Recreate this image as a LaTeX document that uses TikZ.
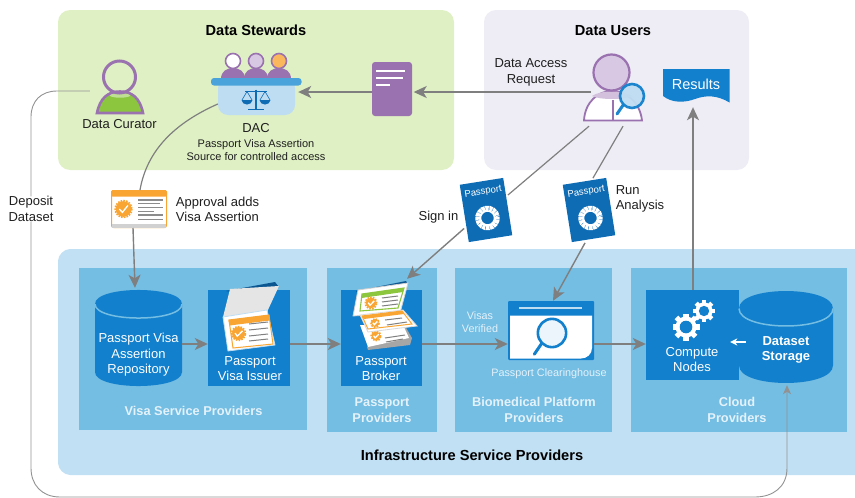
\documentclass[tikz,border=0pt]{standalone}
\usepackage{fontspec}
\setmainfont{Liberation Sans}
\usetikzlibrary{arrows.meta}
\definecolor{stewardsgreen}{HTML}{DFF0C4}
\definecolor{usersgray}{HTML}{EEECF5}
\definecolor{infrablue}{HTML}{C2E0F3}
\definecolor{groupblue}{HTML}{74BDE3}
\definecolor{boxblue}{HTML}{1280CC}
\definecolor{coverblue}{HTML}{0E6CB5}
\definecolor{lightblue}{HTML}{BEDDF2}
\definecolor{barblue}{HTML}{4BA3DC}
\definecolor{iconpurple}{HTML}{9B72B0}
\definecolor{palepurple}{HTML}{D8C8E3}
\definecolor{curatorgreen}{HTML}{8CC63F}
\definecolor{cardorange}{HTML}{F9A533}
\definecolor{flowgray}{HTML}{7F7F7F}
\definecolor{softwhite}{HTML}{E4F2FA}
\tikzset{
  panelbox/.style={rectangle, rounded corners=12pt, inner sep=0pt},
  groupbox/.style={rectangle, fill=groupblue, inner sep=0pt},
  servicebox/.style={rectangle, fill=boxblue, inner sep=0pt},
  hull/.style={rectangle, inner sep=0pt},
  passportbox/.style={rectangle, fill=coverblue, rotate=9, minimum width=44pt, minimum height=58pt, inner sep=0pt, text=white, align=center, font=\fontsize{9.5}{11}\selectfont},
  labeltext/.style={align=center, inner sep=0pt, text=black!88, font=\fontsize{13}{15.5}\selectfont},
  smalltext/.style={align=center, inner sep=0pt, text=black!88, font=\fontsize{11}{13.5}\selectfont},
  whitetext/.style={align=center, inner sep=0pt, text=white, font=\fontsize{13}{15.5}\selectfont},
  palelabel/.style={align=center, inner sep=0pt, text=softwhite, font=\fontsize{10.8}{13}\selectfont},
  titletext/.style={align=center, inner sep=0pt, text=black, font=\fontsize{14.6}{17}\selectfont\bfseries},
  grouptext/.style={align=center, inner sep=0pt, text=softwhite, font=\fontsize{12.8}{15.5}\selectfont\bfseries},
  flow/.style={draw=flowgray, line width=1.4pt, -{Stealth[length=13pt,width=12pt,inset=3.5pt]}},
  plainflow/.style={draw=flowgray, line width=1.2pt},
  thinflow/.style={draw=flowgray!85, line width=0.9pt},
  pics/gear/.style={code={
    \fill[white] (0,0) circle (10.5);
    \foreach \a in {0,45,...,315}
      \fill[white, rotate=\a] (-2.6,-13.5) rectangle (2.6,0);
    \fill[boxblue] (0,0) circle (6.3);
  }},
  pics/seal/.style={code={
    \draw[white, line width=6pt, dash pattern=on 3pt off 0.6pt] (0,0) circle (9.3);
  }},
  pics/badge/.style={code={
    \fill[cardorange] (0,0) circle (5.6);
    \draw[cardorange, line width=1.6pt, dash pattern=on 1.6pt off 1.2pt] (0,0) circle (6);
    \draw[white, line width=1.3pt] (-3,0) -- (-0.8,2.4) -- (3.2,-2.6);
  }},
  pics/lens/.style={code={
    \draw[boxblue, line width=3pt, line cap=round] (-8.5,8.5) -- (-15,18);
    \draw[boxblue, line width=2.6pt, fill=#1] (0,0) circle (12);
  }},
  pics/lens/.default=lightblue
}
\newcommand{\dbshape}[5]{% left, right, top-centre y, bottom-centre y, depth of the end
  \fill[boxblue] (#1,#3) .. controls (#1,#3-#5) and (#2,#3-#5) .. (#2,#3) -- (#2,#4) .. controls (#2,#4+#5) and (#1,#4+#5) .. (#1,#4) -- cycle;
  \draw[groupblue, line width=1.5pt] (#1,#3) .. controls (#1,#3+#5) and (#2,#3+#5) .. (#2,#3);
}
\begin{document}
\begin{tikzpicture}[x=1pt,y=-1pt]
  \useasboundingbox (0,0) rectangle (855,498);
  \node[panelbox, fill=stewardsgreen, minimum width=396pt, minimum height=160pt] (stewards) at (256,90) {};
  \node[panelbox, fill=usersgray, minimum width=265pt, minimum height=160pt] (users) at (616.5,90) {};
  \fill[infrablue] (855,249) -- (855,475) -- (70,475) .. controls (64,475) and (58,469) .. (58,463) -- (58,261) .. controls (58,255) and (64,249) .. (70,249) -- cycle;
  \node[groupbox, minimum width=228pt, minimum height=162pt] (visagroup) at (193,349) {};
  \node[groupbox, minimum width=110pt, minimum height=164pt] (passportgroup) at (382,350) {};
  \node[groupbox, minimum width=157pt, minimum height=164pt] (biomedgroup) at (533.5,350) {};
  \node[groupbox, minimum width=216pt, minimum height=164pt] (cloudgroup) at (739,350) {};

  \node[titletext] (stewardstitle) at (256,30.5) {Data Stewards};
  \node[titletext] (userstitle) at (613,30.5) {Data Users};
  \node[titletext] (infratitle) at (472,455) {Infrastructure Service Providers};
  \node[grouptext] (visatitle) at (193.5,410.5) {Visa Service Providers};
  \node[grouptext] (passporttitle) at (382,410) {Passport\\Providers};
  \node[grouptext] (biomedtitle) at (534,410) {Biomedical Platform\\Providers};
  \node[grouptext] (cloudtitle) at (737,410) {Cloud\\Providers};

  % data curator
  \node[hull, minimum width=46pt, minimum height=54pt] (curator) at (120,86) {};
  \draw[iconpurple, line width=2.6pt, fill=curatorgreen] (97,113) .. controls (100,98) and (108,91.5) .. (120,91.5) .. controls (132,91.5) and (140,98) .. (143,113) -- cycle;
  \fill[white, opacity=.45] (120,95.5) ellipse [x radius=10, y radius=2.2];
  \draw[iconpurple, line width=3pt] (119.5,77) circle (16);
  \node[labeltext] (curatorlabel) at (119.5,124.5) {Data Curator};

  % committee
  \foreach \px/\pcol in {233/white, 256/palepurple, 279/cardorange!80} {
    \fill[iconpurple] (\px-12,79) .. controls (\px-12,71) and (\px-6,68) .. (\px,68) .. controls (\px+6,68) and (\px+12,71) .. (\px+12,79) -- cycle;
    \draw[iconpurple, line width=1.6pt, fill=\pcol] (\px,61) circle (7.5);
  }
  \node[hull, fill=lightblue, rounded corners=10pt, minimum width=77pt, minimum height=37pt] (dac) at (256.5,96.5) {};
  \fill[barblue, rounded corners=3pt] (211,78) rectangle (301.5,85.5);
  \begin{scope}[coverblue]
    \draw[line width=1.2pt] (256,89.5) -- (256,108.5) (248,109.5) -- (264,109.5);
    \draw[line width=1.2pt] (245,91.5) -- (267,91.5);
    \draw[line width=0.6pt] (242,100) -- (247,91.5) -- (252,100) (260,100) -- (265,91.5) -- (270,100);
    \fill (241.5,100) .. controls (242,106) and (252,106) .. (252.5,100) -- cycle;
    \fill (259.5,100) .. controls (260,106) and (270,106) .. (270.5,100) -- cycle;
  \end{scope}
  \node[labeltext] (daclabel) at (256,128) {DAC};
  \node[smalltext] (dacnote) at (256,150) {Passport Visa Assertion\\Source for controlled access};

  % request form
  \node[hull, fill=iconpurple, rounded corners=3pt, minimum width=40pt, minimum height=54pt] (docform) at (392,89) {};
  \foreach \ly/\lx in {71/405, 78/403, 85/390}
    \draw[white, line width=1.8pt] (376,\ly) -- (\lx,\ly);

  % data user
  \node[hull, minimum width=58pt, minimum height=66pt] (user) at (613,87) {};
  \draw[iconpurple, line width=1.8pt, fill=white] (584,120.5) .. controls (585,102) and (598,91) .. (612,91) .. controls (626,91) and (640,102) .. (642,120.5) -- cycle;
  \draw[iconpurple, line width=1.2pt] (613,100) -- (613,120);
  \fill[iconpurple!45] (592,96) .. controls (600,90) and (624,90) .. (632,96) .. controls (624,100) and (600,100) .. (592,96) -- cycle;
  \draw[iconpurple, line width=2.2pt, fill=palepurple] (611.5,72.5) circle (18);
  \pic[opacity=.95] at (632,96) {lens};
  \node[labeltext] (requestlabel) at (531,72.5) {Data Access\\Request};

  % results
  \fill[boxblue] (663,69) -- (729.5,69) -- (729.5,102.5) .. controls (717,95) and (706,95) .. (695,99) .. controls (684,103) and (672,103) .. (663,96) -- cycle;
  \node[hull, text=white, font=\fontsize{14.5}{16}\selectfont, minimum width=66pt, minimum height=33pt] (results) at (696,85.5) {\raisebox{2.5pt}{Results}};

  % approval card
  \node[hull, fill=white, draw=cardorange, line width=1pt, rounded corners=2pt, minimum width=55pt, minimum height=37pt] (approval) at (139,209) {};
  \fill[cardorange, rounded corners=1.5pt] (111,190) rectangle (167,196.5);
  \fill[black!18] (112,223.5) rectangle (166,227.5);
  \pic[scale=1.4] at (123.5,209) {badge};
  \foreach \ly/\lx/\lw in {200/163/1.4, 203.5/160/0.7, 207.5/163/1.4, 211/154/0.7, 215/163/1.4, 219.5/163/1.4}
    \draw[black!45, line width=\lw pt] (138,\ly) -- (\lx,\ly);
  \node[labeltext, align=left] (approvallabel) at (217.5,209.5) {Approval adds\\Visa Assertion};

  % passports
  \node[passportbox] (passportA) at (486,210) {Passport\\[24pt]\strut};
  \pic[rotate=9] at (487.5,218) {seal};
  \node[passportbox] (passportB) at (589,210) {Passport\\[24pt]\strut};
  \pic[rotate=9] at (590.5,218) {seal};
  \node[labeltext] (signinlabel) at (438.5,217) {Sign in};
  \node[labeltext, align=left] (runlabel) at (640,199) {Run\\Analysis};

  % visa service providers
  \node[hull, minimum width=87pt, minimum height=96pt] (repo) at (138.5,338) {};
  \dbshape{95}{182}{304}{372}{18.7}
  \node[whitetext] (repolabel) at (138.5,355) {Passport Visa\\Assertion\\Repository};
  \node[servicebox, minimum width=82pt, minimum height=96pt] (issuer) at (249,338) {};
  \fill[coverblue!80!black] (226,291) -- (275,282) -- (279,287) -- (232,292) -- cycle;
  \fill[black!10] (230,289) -- (279,286) -- (267,312) -- (223,317) -- cycle;
  \draw[lightblue, line width=.8pt, fill=white] (223,317) -- (267,310) -- (275,345) -- (228,351) -- cycle;
  \draw[cardorange, line width=1pt, fill=white] (229,320) -- (269,315) -- (273,344) -- (233,348) -- cycle;
  \fill[cardorange] (228.5,320) -- (269,315) -- (270,320.5) -- (229.5,325.5) -- cycle;
  \pic[rotate=-6, scale=1.15] at (238.5,333.5) {badge};
  \foreach \ly in {324,330,336,341}
    \draw[black!50, line width=1pt] (249,\ly) -- (268,\ly-2);
  \node[whitetext] (issuerlabel) at (250,368.5) {Passport\\Visa Issuer};

  % passport providers
  \node[servicebox, minimum width=81pt, minimum height=96pt] (broker) at (381.5,338) {};
  \fill[coverblue!80!black] (356,291) -- (406,281) -- (408,285) -- (358,293) -- cycle;
  \fill[black!35] (405,326) -- (412,338) -- (410,345) -- (368,350) -- (367,347) -- cycle;
  \fill[white] (360,325) -- (404,327) -- (409,338) -- (368,347) -- cycle;
  \pic[rotate=-6, scale=.8] at (376,336) {badge};
  \draw[black!50, line width=1pt] (385,338) -- (405,335) (386,342) -- (403,339);
  \draw[black!18, line width=.8pt, fill=white] (358,290) -- (408,283) -- (400,313) -- (353,316) -- cycle;
  \draw[curatorgreen, line width=1.1pt, fill=white] (362,294) -- (404,288) -- (398,308) -- (360,311) -- cycle;
  \fill[curatorgreen] (362,294) -- (404,288) -- (403,292) -- (361.5,298) -- cycle;
  \pic[rotate=-6, scale=.95] at (371,303) {badge};
  \foreach \ly in {298,302,306}
    \draw[black!50, line width=1pt] (382,\ly) -- (398,\ly-2);
  \draw[black!15, line width=.8pt, fill=white] (360,315) -- (403,310) -- (417,326) -- (368,332) -- cycle;
  \draw[cardorange, line width=1pt, fill=white] (362,316) -- (402,311) -- (412,324) -- (368,329) -- cycle;
  \fill[cardorange] (362,316) -- (402,311) -- (404,314) -- (364,319) -- cycle;
  \pic[rotate=-6, scale=.7] at (375,323) {badge};
  \draw[black!50, line width=1pt] (385,320) -- (402,318) (387,325) -- (407,322);
  \node[whitetext] (brokerlabel) at (381,368.5) {Passport\\Broker};

  % clearinghouse
  \node[hull, fill=boxblue, rounded corners=1pt, minimum width=86pt, minimum height=59pt] (clearing) at (551,330.5) {};
  \fill[white] (510,315.5) -- (592,315.5) -- (592,348) .. controls (592,354) and (587,358.5) .. (581,358.5) -- (510,358.5) -- cycle;
  \draw[lightblue, line width=1.4pt] (519,308) -- (582,308);
  \pic[scale=1.18] at (552,333) {lens=boxblue!8};
  \node[palelabel] (verifiedlabel) at (480,322) {Visas\\Verified};
  \node[palelabel] (clearinglabel) at (549,374) {Passport Clearinghouse};

  % cloud providers
  \node[servicebox, minimum width=93pt, minimum height=90pt] (compute) at (692.5,335) {};
  \pic at (686,327) {gear};
  \pic[scale=.82] at (704,311) {gear};
  \node[whitetext] (computelabel) at (692,359.5) {Compute\\Nodes};
  \node[hull, minimum width=94pt, minimum height=92pt] (storage) at (786,337) {};
  \dbshape{739}{833}{308.5}{365.5}{23.3}
  \node[whitetext, font=\fontsize{13}{15.5}\selectfont\bfseries] (storagelabel) at (786,350) {Dataset\\Storage};

  % connectors
  \draw[flow] ([xshift=-22pt,yshift=-5pt]user.center |- user.west) -- ([xshift=1.5pt,yshift=-3pt]docform.east);
  \draw[flow] ([yshift=-3pt]docform.west) -- ([xshift=3pt,yshift=4.5pt]dac.east);
  \draw[plainflow] ([yshift=-7.5pt]dac.west) .. controls (175,123) and (147,150) .. ([xshift=1pt]approval.north);
  \draw[flow] ([xshift=-6pt]approval.south) -- ([xshift=-3.5pt,yshift=2pt]repo.north);
  \draw[plainflow] ([xshift=-24pt,yshift=-6pt]user.south) -- ([yshift=11.5pt]passportA.east);
  \draw[flow] ([yshift=-15pt]passportA.west) -- ([xshift=25.5pt,yshift=11pt]broker.north);
  \draw[plainflow] ([xshift=10pt,yshift=-6pt]user.south) -- ([xshift=8.5pt,yshift=3pt]passportB.north);
  \draw[flow] ([xshift=-8.5pt,yshift=-4pt]passportB.south) -- ([xshift=2pt]clearing.north);
  \draw[flow] ([xshift=.5pt]compute.north) -- ([xshift=-3pt,yshift=-5pt]results.south);
  \draw[flow] ([yshift=-6pt]repo.east) -- ([yshift=-6pt]issuer.west);
  \draw[flow] ([yshift=-6pt]issuer.east) -- ([yshift=-6pt]broker.west);
  \draw[flow] ([yshift=-6pt]broker.east) -- (clearing.west |- 0,344);
  \draw[flow] (clearing.east |- 0,344) -- ([yshift=-9pt]compute.west);
  \draw[white, line width=1.2pt, -{Stealth[length=7pt,width=7pt,inset=2pt]}] ([xshift=7pt,yshift=-5pt]storage.west) -- ([xshift=-9pt,yshift=-7pt]compute.east);

  \node[labeltext] (deposit) at (31,209) {Deposit\\Dataset};
  \draw[thinflow] ([xshift=-7pt,yshift=-5pt]curator.west) -- (57,91) .. controls (41,91) and (31,101) .. (31,117) -- (deposit.north);
  \draw[thinflow, -{Stealth[length=9pt,width=8pt,inset=2.5pt]}] (deposit.south) -- (31,468) .. controls (31,485) and (42,497) .. (60,497) -- (755,497) .. controls (773,497) and (787,487) .. (787,468) -- ([xshift=1pt,yshift=-2pt]storage.south);
\end{tikzpicture}
\end{document}
